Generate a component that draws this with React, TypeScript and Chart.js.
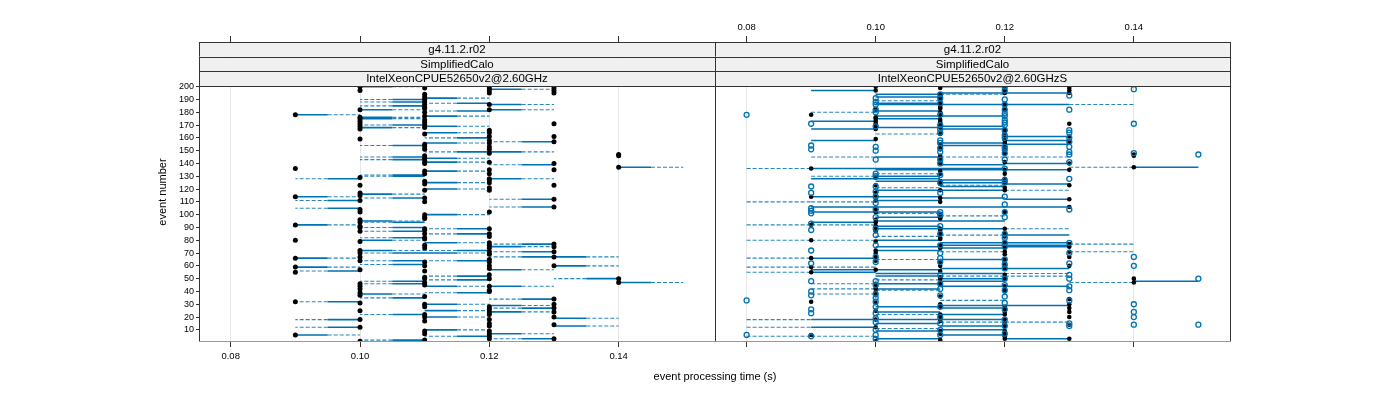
import React, { useEffect, useRef } from 'react';
import { Chart, registerables } from 'chart.js';
Chart.register(...registerables);

// ---------- axis / text data ----------
const xTickValues = [0.08, 0.1, 0.12, 0.14];
const yTickValues = [10, 20, 30, 40, 50, 60, 70, 80, 90, 100, 110, 120, 130, 140, 150, 160, 170, 180, 190, 200];
const stripLeft = ['g4.11.2.r02', 'SimplifiedCalo', 'IntelXeonCPUE52650v2@2.60GHz'];
const stripRight = ['g4.11.2.r02', 'SimplifiedCalo', 'IntelXeonCPUE52650v2@2.60GHzS'];
const yTitle = 'event number';
const xTitle = 'event processing time (s)';

// ---------- black points: event numbers measured at each processing time ----------
const runAat009 = [178, 136, 114, 92, 80, 66, 59, 55, 32, 6];
const runAat010 = [200, 197, 182, 176, 175, 173, 171, 169, 167, 159, 129, 123, 117, 115, 111, 104, 102, 96, 94, 91, 90, 87, 79, 72, 70, 67, 64, 57, 46, 44, 42, 39, 37, 31, 25, 18, 12, 1];
const runAat011 = [199, 194, 192, 190, 188, 186, 184, 183, 180, 177, 174, 172, 170, 168, 163, 155, 153, 151, 146, 144, 142, 140, 134, 132, 126, 124, 119, 113, 110, 100, 98, 97, 89, 88, 85, 82, 81, 76, 74, 63, 60, 56, 51, 50, 47, 45, 36, 30, 28, 22, 20, 17, 9, 7, 2];
const runAat012 = [199, 197, 195, 186, 182, 166, 164, 161, 158, 156, 153, 151, 148, 141, 135, 132, 128, 127, 125, 121, 119, 102, 89, 85, 83, 78, 76, 74, 71, 69, 65, 63, 60, 58, 53, 50, 44, 41, 40, 28, 26, 24, 22, 18, 15, 13, 9, 7, 5, 3];
const runAat013 = [199, 197, 195, 171, 161, 157, 140, 135, 123, 112, 106, 77, 75, 71, 67, 60, 34, 30, 27, 24, 20, 14, 3];
const runAat014 = [147, 146, 137, 50, 47];

// ---------- blue open circles (second configuration, right panel) ----------
const runBat008 = [178, 33, 6];
const runBat009 = [171, 154, 151, 122, 117, 105, 103, 101, 93, 88, 72, 62, 48, 40, 37, 26, 23, 5];
const runBat010 = [191, 188, 186, 182, 180, 169, 153, 150, 143, 132, 130, 122, 118, 114, 109, 104, 98, 89, 84, 76, 67, 63, 48, 45, 38, 35, 32, 28, 23, 19, 16, 10, 6, 3];
const runBat011 = [194, 191, 187, 178, 170, 167, 164, 158, 156, 152, 149, 143, 140, 131, 125, 117, 102, 100, 91, 85, 76, 70, 66, 63, 53, 46, 42, 37, 28, 20, 15, 10, 6];
const runBat012 = [200, 197, 190, 186, 182, 179, 177, 174, 172, 170, 166, 162, 160, 153, 151, 148, 143, 136, 127, 125, 114, 108, 102, 98, 85, 82, 78, 75, 65, 61, 58, 50, 45, 41, 36, 31, 26, 18, 13, 7];
const runBat013 = [193, 182, 166, 164, 160, 157, 153, 149, 147, 141, 128, 104, 78, 70, 62, 53, 50, 44, 41, 33, 15, 13];
const runBat014 = [198, 171, 148, 67, 60, 30, 24, 20, 14];
const runBat015 = [147, 50, 14];

// ---------- left panel links: [event, time at point (solid end), other time (dashed end)] ----------
const leftLinks: [number, number, number][] = [
  [178, 0.09, 0.10], [128, 0.10, 0.09], [114, 0.09, 0.10], [111, 0.10, 0.09], [105, 0.10, 0.09], [92, 0.09, 0.10],
  [66, 0.09, 0.10], [59, 0.09, 0.10], [56, 0.10, 0.09], [32, 0.10, 0.09], [18, 0.10, 0.09], [12, 0.10, 0.09], [6, 0.09, 0.10],
  [200, 0.10, 0.11], [190, 0.11, 0.10], [188, 0.11, 0.10], [185, 0.11, 0.10], [182, 0.10, 0.11], [176, 0.10, 0.11],
  [175, 0.10, 0.11], [170, 0.11, 0.10], [168, 0.10, 0.11], [154, 0.11, 0.10], [145, 0.11, 0.10], [143, 0.11, 0.10],
  [131, 0.11, 0.10], [130, 0.11, 0.10], [116, 0.10, 0.11], [113, 0.11, 0.10], [95, 0.10, 0.11], [94, 0.11, 0.10], [90, 0.11, 0.10],
  [87, 0.11, 0.10], [82, 0.11, 0.10], [80, 0.10, 0.11], [72, 0.10, 0.11], [70, 0.11, 0.10], [64, 0.11, 0.10],
  [61, 0.11, 0.10], [48, 0.11, 0.10], [46, 0.11, 0.10], [38, 0.10, 0.11], [35, 0.11, 0.10], [22, 0.11, 0.10], [2, 0.11, 0.10],
  [191, 0.11, 0.12], [187, 0.12, 0.11], [181, 0.12, 0.11], [177, 0.11, 0.12], [169, 0.11, 0.12], [164, 0.11, 0.12],
  [160, 0.12, 0.11], [156, 0.11, 0.12], [149, 0.12, 0.11], [144, 0.11, 0.12], [141, 0.11, 0.12], [134, 0.11, 0.12],
  [125, 0.11, 0.12], [120, 0.11, 0.12], [100, 0.11, 0.12], [89, 0.12, 0.11], [85, 0.12, 0.11], [78, 0.11, 0.12],
  [72, 0.12, 0.11], [70, 0.11, 0.12], [64, 0.12, 0.11], [52, 0.12, 0.11], [49, 0.12, 0.11], [44, 0.11, 0.12],
  [39, 0.12, 0.11], [30, 0.11, 0.12], [25, 0.11, 0.12], [20, 0.11, 0.12], [10, 0.11, 0.12], [5, 0.12, 0.11],
  [198, 0.12, 0.13], [186, 0.12, 0.13], [182, 0.12, 0.13], [157, 0.13, 0.12], [149, 0.12, 0.13], [139, 0.13, 0.12],
  [128, 0.12, 0.13], [112, 0.13, 0.12], [106, 0.13, 0.12], [77, 0.13, 0.12], [75, 0.12, 0.13], [71, 0.13, 0.12],
  [67, 0.13, 0.12], [57, 0.12, 0.13], [44, 0.12, 0.13], [34, 0.13, 0.12], [29, 0.12, 0.13], [27, 0.13, 0.12],
  [24, 0.12, 0.13], [7, 0.12, 0.13], [3, 0.13, 0.12],
  [67, 0.13, 0.14], [60, 0.13, 0.14], [50, 0.14, 0.13], [19, 0.13, 0.14], [13, 0.13, 0.14],
  [137, 0.14, 0.15], [47, 0.14, 0.15],
];

// ---------- right panel links: [event, time from, time to] ----------
const rightSolidLinks: [number, number, number][] = [
  [197, 0.09, 0.10], [173, 0.09, 0.10], [167, 0.09, 0.10], [158, 0.09, 0.10], [136, 0.09, 0.10], [128, 0.09, 0.10],
  [114, 0.09, 0.10], [106, 0.09, 0.10], [102, 0.09, 0.10], [94, 0.09, 0.10], [66, 0.09, 0.10], [57, 0.09, 0.10],
  [55, 0.09, 0.10], [18, 0.09, 0.10], [12, 0.09, 0.10],
  [194, 0.10, 0.11], [192, 0.10, 0.11], [187, 0.10, 0.11], [186, 0.10, 0.11], [181, 0.10, 0.11], [177, 0.10, 0.11],
  [175, 0.10, 0.11], [168, 0.10, 0.11], [145, 0.10, 0.11], [136, 0.10, 0.11], [135, 0.10, 0.11], [130, 0.10, 0.11],
  [128, 0.10, 0.11], [126, 0.10, 0.11], [119, 0.10, 0.11], [114, 0.10, 0.11], [111, 0.10, 0.11], [106, 0.10, 0.11],
  [102, 0.10, 0.11], [98, 0.10, 0.11], [95, 0.10, 0.11], [91, 0.10, 0.11], [89, 0.10, 0.11], [80, 0.10, 0.11],
  [75, 0.10, 0.11], [72, 0.10, 0.11], [57, 0.10, 0.11], [54, 0.10, 0.11], [52, 0.10, 0.11], [46, 0.10, 0.11],
  [42, 0.10, 0.11], [28, 0.10, 0.11], [24, 0.10, 0.11], [18, 0.10, 0.11], [15, 0.10, 0.11], [9, 0.10, 0.11], [3, 0.10, 0.11],
  [200, 0.11, 0.12], [195, 0.11, 0.12], [186, 0.11, 0.12], [177, 0.11, 0.12], [169, 0.11, 0.12], [167, 0.11, 0.12],
  [156, 0.11, 0.12], [154, 0.11, 0.12], [139, 0.11, 0.12], [136, 0.11, 0.12], [135, 0.11, 0.12], [127, 0.11, 0.12],
  [125, 0.11, 0.12], [122, 0.11, 0.12], [119, 0.11, 0.12], [113, 0.11, 0.12], [106, 0.11, 0.12], [95, 0.11, 0.12],
  [89, 0.11, 0.12], [78, 0.11, 0.12], [76, 0.11, 0.12], [74, 0.11, 0.12], [65, 0.11, 0.12], [58, 0.11, 0.12],
  [54, 0.11, 0.12], [50, 0.11, 0.12], [48, 0.11, 0.12], [44, 0.11, 0.12], [29, 0.11, 0.12], [27, 0.11, 0.12],
  [22, 0.11, 0.12], [18, 0.11, 0.12], [13, 0.11, 0.12], [10, 0.11, 0.12], [6, 0.11, 0.12],
  [195, 0.12, 0.13], [186, 0.12, 0.13], [161, 0.12, 0.13], [158, 0.12, 0.13], [155, 0.12, 0.13], [140, 0.12, 0.13],
  [135, 0.12, 0.13], [124, 0.12, 0.13], [112, 0.12, 0.13], [106, 0.12, 0.13], [84, 0.12, 0.13], [78, 0.12, 0.13],
  [76, 0.12, 0.13], [75, 0.12, 0.13], [58, 0.12, 0.13], [44, 0.12, 0.13], [29, 0.12, 0.13], [3, 0.12, 0.13],
  [137, 0.14, 0.15], [48, 0.14, 0.15],
];
const rightDashedLinks: [number, number, number][] = [
  [136, 0.08, 0.09], [110, 0.08, 0.09], [92, 0.08, 0.09], [80, 0.08, 0.09], [66, 0.08, 0.09], [59, 0.08, 0.09],
  [55, 0.08, 0.09], [18, 0.08, 0.09], [12, 0.08, 0.09], [5, 0.08, 0.09],
  [180, 0.09, 0.10], [145, 0.09, 0.10], [130, 0.09, 0.10], [110, 0.09, 0.10], [92, 0.09, 0.10], [80, 0.09, 0.10],
  [59, 0.09, 0.10], [46, 0.09, 0.10], [42, 0.09, 0.10], [38, 0.09, 0.10], [5, 0.09, 0.10],
  [189, 0.10, 0.11], [163, 0.10, 0.11], [132, 0.10, 0.11], [121, 0.10, 0.11], [101, 0.10, 0.11], [83, 0.10, 0.11],
  [65, 0.10, 0.11], [49, 0.10, 0.11], [41, 0.10, 0.11], [22, 0.10, 0.11], [11, 0.10, 0.11],
  [194, 0.11, 0.12], [145, 0.11, 0.12], [123, 0.11, 0.12], [99, 0.11, 0.12], [84, 0.11, 0.12], [71, 0.11, 0.12],
  [52, 0.11, 0.12], [33, 0.11, 0.12], [16, 0.11, 0.12],
  [145, 0.12, 0.13], [119, 0.12, 0.13], [89, 0.12, 0.13], [54, 0.12, 0.13], [52, 0.12, 0.13], [16, 0.12, 0.13],
  [186, 0.13, 0.14], [137, 0.13, 0.14], [77, 0.13, 0.14], [71, 0.13, 0.14], [47, 0.13, 0.14],
];

// ---------- helpers ----------
const X_MIN = 0.0751;
const X_MAX = 0.1549;
const Y_MIN = 0.5;
const Y_DATA_MAX = 200.5;
const STRIP_SPACE = 44; // px of strips above the data region
const DATA_HEIGHT = 256; // px of the data region
const Y_MAX = Y_DATA_MAX + (STRIP_SPACE / DATA_HEIGHT) * (Y_DATA_MAX - Y_MIN);
const FONT = "'Liberation Sans', Arial, Helvetica, sans-serif";
const BLUE = '#0072B2';

function pts(time: number, events: number[]) {
  return events.map((e) => ({ x: time, y: e }));
}
function halfSplit(links: [number, number, number][]) {
  const solid: any[] = [];
  const dashed: any[] = [];
  for (const [e, a, b] of links) {
    const m = (a + b) / 2;
    solid.push({ x: a, y: e }, { x: m, y: e }, { x: m, y: null });
    dashed.push({ x: m, y: e }, { x: b, y: e }, { x: b, y: null });
  }
  return { solid, dashed };
}
function whole(links: [number, number, number][]) {
  const out: any[] = [];
  for (const [e, a, b] of links) out.push({ x: a, y: e }, { x: b, y: e }, { x: b, y: null });
  return out;
}

const runAPoints = [
  ...pts(0.09, runAat009), ...pts(0.1, runAat010), ...pts(0.11, runAat011),
  ...pts(0.12, runAat012), ...pts(0.13, runAat013), ...pts(0.14, runAat014),
];
const runBPoints = [
  ...pts(0.08, runBat008), ...pts(0.09, runBat009), ...pts(0.1, runBat010), ...pts(0.11, runBat011),
  ...pts(0.12, runBat012), ...pts(0.13, runBat013), ...pts(0.14, runBat014), ...pts(0.15, runBat015),
];

function panelPlugin(labels: string[], withXTitle: boolean) {
  return {
    id: 'latticePanel',
    afterDraw(chart: any) {
      const { ctx, chartArea: ca, scales } = chart;
      const dataTop = scales.y.getPixelForValue(Y_DATA_MAX);
      const h = (dataTop - ca.top) / 3;
      const w = ca.right - ca.left;
      ctx.save();
      for (let i = 0; i < 3; i++) {
        const y0 = ca.top + i * h;
        ctx.fillStyle = '#f0f0f0';
        ctx.fillRect(ca.left, y0, w, h);
        ctx.strokeStyle = '#333';
        ctx.lineWidth = 1;
        ctx.strokeRect(ca.left + 0.5, Math.round(y0) + 0.5, w, Math.round(h));
        ctx.fillStyle = '#000';
        ctx.font = `11.5px ${FONT}`;
        ctx.textAlign = 'center';
        ctx.textBaseline = 'middle';
        ctx.fillText(labels[i], ca.left + w / 2, y0 + h / 2 + 0.5);
      }
      ctx.strokeStyle = '#333';
      ctx.strokeRect(ca.left + 0.5, Math.round(dataTop) + 0.5, w, ca.bottom - Math.round(dataTop) - 1);
      ctx.strokeStyle = '#999';
      ctx.beginPath();
      ctx.moveTo(ca.left, ca.bottom - 0.5);
      ctx.lineTo(ca.right + 1, ca.bottom - 0.5);
      ctx.stroke();
      if (withXTitle) {
        ctx.fillStyle = '#000';
        ctx.font = `11px ${FONT}`;
        ctx.textAlign = 'center';
        ctx.textBaseline = 'middle';
        ctx.fillText(xTitle, ca.right, ca.bottom + 35);
      }
      ctx.restore();
    },
  };
}

function xScales(topLabels: boolean, bottomLabels: boolean) {
  const setTicks = (s: any) => {
    s.ticks = xTickValues.map((v) => ({ value: v }));
  };
  return {
    x: {
      type: 'linear', position: 'bottom', min: X_MIN, max: X_MAX,
      afterBuildTicks: setTicks,
      afterFit: (s: any) => { s.height = 58; },
      ticks: { display: bottomLabels, font: { size: 9.5, family: FONT }, color: '#000', padding: 4, maxRotation: 0, autoSkip: false, callback: (v: any) => Number(v).toFixed(2) },
      grid: { color: '#e6e6e6', tickColor: '#333', tickLength: 5, drawOnChartArea: true },
      border: { display: false },
    },
    xt: {
      type: 'linear', position: 'top', min: X_MIN, max: X_MAX,
      afterBuildTicks: setTicks,
      afterFit: (s: any) => { s.height = 42; },
      ticks: { display: topLabels, font: { size: 9.5, family: FONT }, color: '#000', padding: 3, maxRotation: 0, autoSkip: false, callback: (v: any) => Number(v).toFixed(2) },
      grid: { drawOnChartArea: false, tickColor: '#333', tickLength: 6 },
      border: { display: false },
    },
  };
}

function lineDs(data: any[], dashed: boolean, width: number, color: string, order: number) {
  return {
    type: 'line', data, xAxisID: 'x', yAxisID: 'y', borderColor: color, borderWidth: width,
    borderDash: dashed ? [4, 2] : [], pointRadius: 0, spanGaps: false, fill: false, tension: 0, order,
  };
}

export default function App() {
  const leftRef = useRef<HTMLCanvasElement>(null);
  const rightRef = useRef<HTMLCanvasElement>(null);

  useEffect(() => {
    const L = halfSplit(leftLinks);
    const rSolid = whole(rightSolidLinks);
    const rDashed = whole(rightDashedLinks);

    const common = {
      animation: false as const,
      responsive: false,
      devicePixelRatio: 1,
      events: [] as any[],
      plugins: { legend: { display: false }, tooltip: { enabled: false } },
    };

    const left = new Chart(leftRef.current as HTMLCanvasElement, {
      type: 'scatter',
      data: {
        datasets: [
          { type: 'scatter', data: runAPoints, xAxisID: 'x', yAxisID: 'y', pointRadius: 2.5, pointBackgroundColor: '#000', pointBorderWidth: 0, order: 0 } as any,
          lineDs(L.solid, false, 1.6, BLUE, 1),
          lineDs(L.dashed, true, 1.1, 'rgba(0,114,178,0.85)', 2),
        ],
      },
      options: {
        ...common,
        layout: { padding: { left: 152, right: 685, top: 0, bottom: 0 } },
        scales: {
          ...xScales(false, true),
          y: {
            type: 'linear', position: 'left', min: Y_MIN, max: Y_MAX,
            afterBuildTicks: (s: any) => { s.ticks = yTickValues.map((v) => ({ value: v })); },
            afterFit: (s: any) => { s.width = 47; },
            ticks: { font: { size: 9, family: FONT }, color: '#000', padding: 2, autoSkip: false },
            grid: { drawOnChartArea: false, tickColor: '#333', tickLength: 3 },
            border: { display: false },
            title: { display: true, text: yTitle, font: { size: 11, family: FONT }, color: '#000', padding: 4 },
          },
        } as any,
      },
      plugins: [panelPlugin(stripLeft, true)],
    } as any);

    const right = new Chart(rightRef.current as HTMLCanvasElement, {
      type: 'scatter',
      data: {
        datasets: [
          { type: 'scatter', data: runBPoints, xAxisID: 'x', yAxisID: 'y', pointRadius: 2.5, pointBackgroundColor: 'rgba(0,0,0,0)', pointBorderColor: BLUE, pointBorderWidth: 1.3, order: 0 } as any,
          { type: 'scatter', data: runAPoints, xAxisID: 'x', yAxisID: 'y', pointRadius: 2.3, pointBackgroundColor: '#000', pointBorderWidth: 0, order: 1 } as any,
          lineDs(rSolid, false, 1.5, BLUE, 2),
          lineDs(rDashed, true, 1.1, 'rgba(0,114,178,0.85)', 3),
        ],
      },
      options: {
        ...common,
        layout: { padding: { left: 715, right: 170, top: 0, bottom: 0 } },
        scales: {
          ...xScales(true, false),
          y: { type: 'linear', display: false, min: Y_MIN, max: Y_MAX },
        } as any,
      },
      plugins: [panelPlugin(stripRight, false)],
    } as any);

    return () => {
      left.destroy();
      right.destroy();
    };
  }, []);

  const cs: React.CSSProperties = { position: 'absolute', left: 0, top: 0, width: 1400, height: 400 };
  return (
    <div style={{ position: 'absolute', left: 0, top: 0, width: 1400, height: 400, background: '#fff' }}>
      <canvas ref={leftRef} width={1400} height={400} style={cs} />
      <canvas ref={rightRef} width={1400} height={400} style={cs} />
    </div>
  );
}
